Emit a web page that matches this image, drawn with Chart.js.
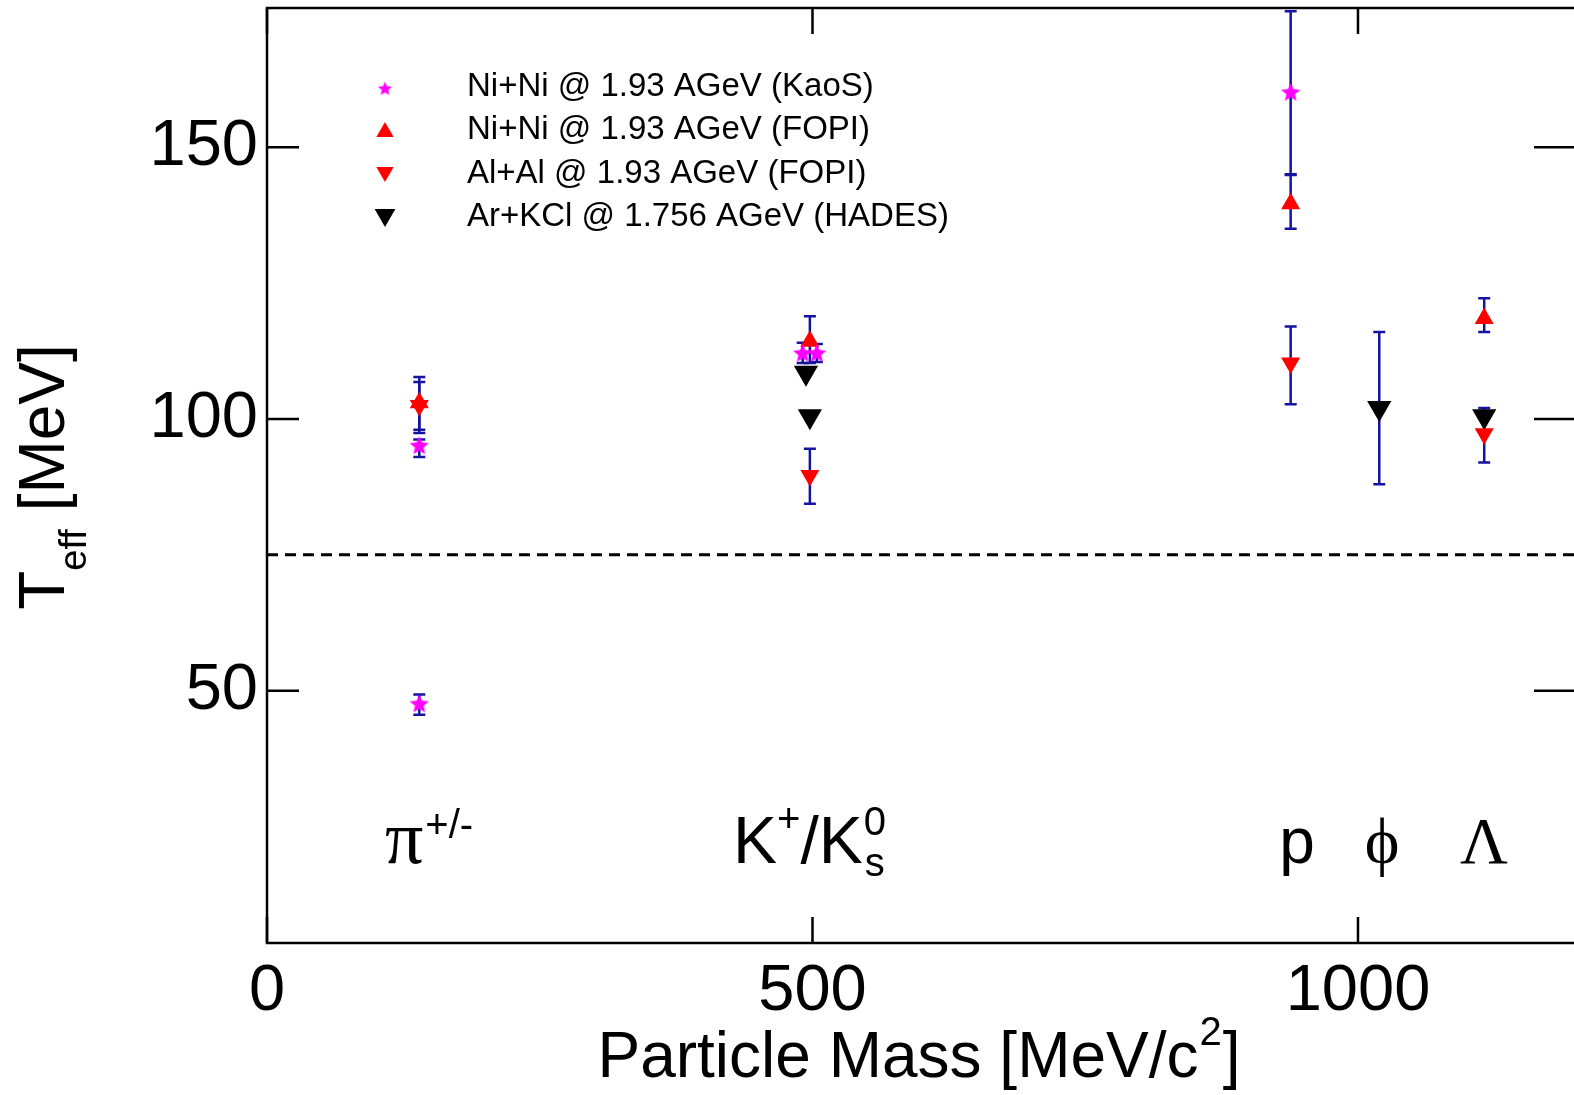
<!DOCTYPE html>
<html>
<head>
<meta charset="utf-8">
<script src="https://cdn.jsdelivr.net/npm/chart.js@4.4.1/dist/chart.umd.min.js"></script>
<style>
body { margin: 0; background: #fff; }
#wrap { width: 1574px; height: 1095px; }
</style>
</head>
<body>
<div id="wrap"><canvas id="teff" width="1574" height="1095"></canvas></div>
<script>
// T_eff vs particle mass
let kaosX = [139.6, 139.6, 491, 504, 938.3];
let kaosY = [95, 47.5, 112, 112, 160];
let kaosLo = [93, 45.6, 110.3, 110.5, 145];
let kaosHi = [96.2, 49.3, 114, 113.8, 175];

let niX = [139.6, 497.6, 938.3, 1115.7];
let niY = [103, 114.3, 139.6, 118.5];
let niLo = [98, 110.3, 135, 116];
let niHi = [107.7, 118.9, 144.9, 122.2];

let alX = [139.6, 497.6, 938.3, 1115.7];
let alY = [102.5, 89.6, 110.3, 97.3];
let alLo = [97.4, 84.4, 102.7, 92];
let alHi = [106.8, 94.5, 117, 102];

let hadesX = [494, 497.6, 1019.5, 1115.7];
let hadesY = [108.5, 100.5, 102, 100.5];
let hadesLo = [null, null, 88, null];
let hadesHi = [null, null, 116, null];

let dashX = [0, 1198];
let dashY = [75, 75];

let xTicks = [0, 500, 1000];
let yTicks = [50, 100, 150];

let legendLabels = ['Ni+Ni @ 1.93 AGeV (KaoS)', 'Ni+Ni @ 1.93 AGeV (FOPI)',
    'Al+Al @ 1.93 AGeV (FOPI)', 'Ar+KCl @ 1.756 AGeV (HADES)'];

const sans = '"Liberation Sans", Arial, sans-serif';
const serif = '"Liberation Serif", "DejaVu Serif", serif';
const errColor = '#1414a0';

function pts(xs, ys) {
    return xs.map((x, i) => ({ x: x, y: ys[i] }));
}

function makeStar(r, color) {
    let c = document.createElement('canvas');
    c.width = c.height = Math.ceil(r * 2 + 2);
    let g = c.getContext('2d');
    let cx = c.width / 2, cy = c.height / 2;
    g.beginPath();
    for (let i = 0; i < 10; i++) {
        let rr = i % 2 === 0 ? r : r * 0.45;
        let a = -Math.PI / 2 + i * Math.PI / 5;
        g.lineTo(cx + rr * Math.cos(a), cy + rr * Math.sin(a));
    }
    g.closePath();
    g.fillStyle = color;
    g.fill();
    return c;
}

let starBig = makeStar(10, '#ff00ff');
let starSmall = makeStar(7.5, '#ff00ff');

let errSets = [
    [kaosX, kaosLo, kaosHi],
    [niX, niLo, niHi],
    [alX, alLo, alHi],
    [hadesX, hadesLo, hadesHi]
];

// drop the label overhang padding so the plot box sits where the figure has it
function noPad(s) {
    s.paddingTop = 0; s.paddingBottom = 0;
    s.paddingLeft = 0; s.paddingRight = 0;
}

let framePlugin = {
    id: 'frame',
    beforeDatasetsDraw(chart) {
        let ctx = chart.ctx;
        let xs = chart.scales.x, ys = chart.scales.y;
        ctx.save();
        ctx.strokeStyle = errColor;
        ctx.lineWidth = 2.5;
        for (let s of errSets) {
            for (let i = 0; i < s[0].length; i++) {
                if (s[1][i] == null) continue;
                let px = xs.getPixelForValue(s[0][i]);
                let y1 = ys.getPixelForValue(Math.min(s[2][i], ys.max));
                let y0 = ys.getPixelForValue(s[1][i]);
                ctx.beginPath();
                ctx.moveTo(px, y0); ctx.lineTo(px, y1);
                ctx.moveTo(px - 6, y0); ctx.lineTo(px + 6, y0);
                ctx.moveTo(px - 6, y1); ctx.lineTo(px + 6, y1);
                ctx.stroke();
            }
        }
        ctx.restore();
    },
    afterDraw(chart) {
        let ctx = chart.ctx;
        let a = chart.chartArea;
        let xs = chart.scales.x, ys = chart.scales.y;
        ctx.save();
        // frame
        ctx.strokeStyle = '#000';
        ctx.lineWidth = 2.5;
        ctx.beginPath();
        ctx.moveTo(a.right + 2, a.top); ctx.lineTo(a.left, a.top);
        ctx.lineTo(a.left, a.bottom); ctx.lineTo(a.right + 2, a.bottom);
        ctx.stroke();
        // inward ticks
        ctx.beginPath();
        for (let v of xTicks) {
            let px = xs.getPixelForValue(v);
            ctx.moveTo(px, a.bottom); ctx.lineTo(px, a.bottom - 26);
            ctx.moveTo(px, a.top); ctx.lineTo(px, a.top + 26);
        }
        for (let v of yTicks) {
            let py = ys.getPixelForValue(v);
            ctx.moveTo(a.left, py); ctx.lineTo(a.left + 32, py);
            ctx.moveTo(a.right, py); ctx.lineTo(a.right - 40, py);
        }
        ctx.stroke();

        // legend
        let markers = [
            { pointStyle: starSmall, radius: 8, rotation: 0, color: '#ff00ff' },
            { pointStyle: 'triangle', radius: 10, rotation: 0, color: '#ff0000' },
            { pointStyle: 'triangle', radius: 10, rotation: 180, color: '#ff0000' },
            { pointStyle: 'triangle', radius: 12, rotation: 180, color: '#000000' }
        ];
        let rows = [87, 130, 174, 217];
        ctx.font = '33px ' + sans;
        ctx.textBaseline = 'middle';
        ctx.textAlign = 'left';
        for (let i = 0; i < 4; i++) {
            ctx.fillStyle = markers[i].color;
            ctx.strokeStyle = markers[i].color;
            Chart.helpers.drawPoint(ctx, { pointStyle: markers[i].pointStyle, radius: markers[i].radius,
                rotation: markers[i].rotation, borderWidth: 0 }, 385, rows[i] + (markers[i].rotation ? -2 : 2));
            ctx.fillStyle = '#000';
            ctx.fillText(legendLabels[i], 467, rows[i]);
        }

        // particle labels
        ctx.textBaseline = 'alphabetic';
        ctx.fillStyle = '#000';
        let base = 863;
        ctx.font = '76px ' + serif;
        ctx.fillText('\u03c0', 385, base);
        let w = ctx.measureText('\u03c0').width;
        ctx.font = '40px ' + sans;
        ctx.fillText('+/-', 385 + w + 2, 838);

        let kx = 733;
        ctx.font = '66px ' + sans;
        ctx.fillText('K', kx, base);
        kx += ctx.measureText('K').width;
        ctx.font = '40px ' + sans;
        ctx.fillText('+', kx, 832);
        kx += ctx.measureText('+').width;
        ctx.font = '66px ' + sans;
        ctx.fillText('/K', kx, base);
        kx += ctx.measureText('/K').width;
        ctx.font = '40px ' + sans;
        ctx.fillText('0', kx + 1, 835);
        ctx.fillText('s', kx + 2, 876);

        ctx.textAlign = 'center';
        ctx.font = '64px ' + sans;
        ctx.fillText('p', 1297, base);
        ctx.font = '66px ' + serif;
        ctx.fillText('\u03d5', 1382, base);
        ctx.fillText('\u039b', 1484, base);

        // x title
        ctx.textAlign = 'left';
        ctx.font = '64px ' + sans;
        let t1 = 'Particle Mass [MeV/c';
        let w1 = ctx.measureText(t1).width;
        ctx.font = '40px ' + sans;
        let w2 = ctx.measureText('2').width;
        ctx.font = '64px ' + sans;
        let w3 = ctx.measureText(']').width;
        let x0 = 918 - (w1 + w2 + w3) / 2;
        ctx.fillText(t1, x0, 1077);
        ctx.font = '40px ' + sans;
        ctx.fillText('2', x0 + w1 + 1, 1045);
        ctx.font = '64px ' + sans;
        ctx.fillText(']', x0 + w1 + w2 + 2, 1077);

        // y title
        ctx.translate(64, 477);
        ctx.rotate(-Math.PI / 2);
        ctx.font = '64px ' + sans;
        let a1 = ctx.measureText('T').width;
        let a3 = ctx.measureText(' [MeV]').width;
        ctx.font = '38px ' + sans;
        let a2 = ctx.measureText('eff').width;
        let s0 = -(a1 + a2 + a3) / 2;
        ctx.font = '64px ' + sans;
        ctx.fillText('T', s0, 0);
        ctx.font = '38px ' + sans;
        ctx.fillText('eff', s0 + a1, 22);
        ctx.font = '64px ' + sans;
        ctx.fillText(' [MeV]', s0 + a1 + a2, 0);
        ctx.restore();
    }
};

let graph = document.querySelector('#teff').getContext('2d');

let chart = new Chart(graph, {
    type: 'scatter',
    data: {
        datasets: [
            {
                label: legendLabels[0],
                data: pts(kaosX, kaosY),
                pointStyle: starBig,
                pointRadius: 10,
                backgroundColor: '#ff00ff'
            },
            {
                label: legendLabels[1],
                data: pts(niX, niY),
                pointStyle: 'triangle',
                pointRadius: 11,
                pointBorderWidth: 0,
                backgroundColor: '#ff0000',
                borderColor: '#ff0000'
            },
            {
                label: legendLabels[2],
                data: pts(alX, alY),
                pointStyle: 'triangle',
                rotation: 180,
                pointRadius: 11,
                pointBorderWidth: 0,
                backgroundColor: '#ff0000',
                borderColor: '#ff0000'
            },
            {
                label: legendLabels[3],
                data: pts(hadesX, hadesY),
                pointStyle: 'triangle',
                rotation: 180,
                pointRadius: 14,
                pointBorderWidth: 0,
                backgroundColor: '#000000',
                borderColor: '#000000'
            },
            {
                type: 'line',
                label: 'level',
                data: pts(dashX, dashY),
                borderColor: '#000',
                borderWidth: 3,
                borderDash: [11, 7],
                pointRadius: 0
            }
        ]
    },
    options: {
        responsive: false,
        animation: false,
        layout: { autoPadding: false, padding: { top: 8, right: 0, left: 0, bottom: 0 } },
        plugins: {
            legend: { display: false },
            tooltip: { enabled: false }
        },
        scales: {
            x: {
                type: 'linear',
                min: 0,
                max: 1198,
                afterBuildTicks: (s) => { s.ticks = xTicks.map(v => ({ value: v })); },
                afterFit: (s) => { s.height = 152; noPad(s); },
                grid: { display: false, drawTicks: false },
                border: { display: false },
                ticks: {
                    padding: 10,
                    color: '#000',
                    callback: (v) => String(v),
                    font: { family: sans, size: 65 }
                }
            },
            y: {
                type: 'linear',
                min: 3.6,
                max: 175.6,
                afterBuildTicks: (s) => { s.ticks = yTicks.map(v => ({ value: v })); },
                afterFit: (s) => { s.width = 267; noPad(s); },
                grid: { display: false, drawTicks: false },
                border: { display: false },
                ticks: {
                    padding: 9,
                    color: '#000',
                    callback: (v) => String(v),
                    font: { family: sans, size: 65 }
                }
            }
        }
    },
    plugins: [framePlugin]
});
</script>
</body>
</html>
